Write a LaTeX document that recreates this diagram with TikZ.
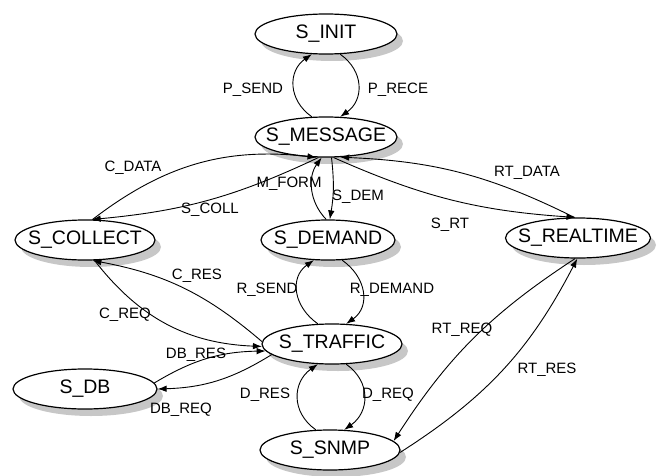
\documentclass[tikz,border=0pt]{standalone}
\usepackage{fontspec}
\setmainfont{Liberation Sans}
\usetikzlibrary{shapes.geometric,arrows.meta,backgrounds}
\begin{document}
\begin{tikzpicture}[x=1pt,y=1pt,
  st/.style={draw, ellipse, fill=white, minimum height=40pt, inner sep=0pt, line width=1.2pt,
    label={[font=\fontsize{19.5}{20}\selectfont]center:#1}},
  shd/.style={fill=black!22, draw=none},
  lb/.style={font=\fontsize{15}{16}\selectfont, inner sep=1pt},
  ed/.style={line width=0.9pt, -{Latex[length=9pt,width=6.5pt]}},
]
\useasboundingbox (0,0) rectangle (658,475);
% states
\node[st=S\_INIT, minimum width=142pt] (init) at (326,441) {};
\node[st=S\_MESSAGE, minimum width=142pt] (msg) at (326,338) {};
\node[st=S\_COLLECT, minimum width=140pt] (col) at (85,235) {};
\node[st=S\_DEMAND, minimum width=134pt] (dem) at (328,235) {};
\node[st=S\_REALTIME, minimum width=145pt] (real) at (578,237) {};
\node[st=S\_TRAFFIC, minimum width=140pt] (trf) at (332,131) {};
\node[st=S\_DB, minimum width=144pt] (db) at (85,86) {};
\node[st=S\_SNMP, minimum width=140pt] (snmp) at (330,25) {};
% shadows
\begin{pgfonlayer}{background}
\fill[shd] ([shift={(6,-7)}]init.center) ellipse [x radius=71, y radius=20];
\fill[shd] ([shift={(6,-7)}]msg.center) ellipse [x radius=71, y radius=20];
\fill[shd] ([shift={(6,-7)}]col.center) ellipse [x radius=70, y radius=20];
\fill[shd] ([shift={(6,-7)}]dem.center) ellipse [x radius=67, y radius=20];
\fill[shd] ([shift={(6,-7)}]real.center) ellipse [x radius=72, y radius=20];
\fill[shd] ([shift={(6,-7)}]trf.center) ellipse [x radius=70, y radius=20];
\fill[shd] ([shift={(6,-7)}]db.center) ellipse [x radius=72, y radius=20];
\fill[shd] ([shift={(6,-7)}]snmp.center) ellipse [x radius=70, y radius=20];
\end{pgfonlayer}
% INIT - MESSAGE loop
\draw[ed] (init.-55) to[out=-35,in=35,looseness=1.2] (msg.55);
\draw[ed] (msg.125) to[out=145,in=215,looseness=1.2] (init.-125);
% MESSAGE - COLLECT
\draw[ed] (col.70) to[bend left=22] (msg.245);
\draw[ed] (msg.250) to[bend left=10] (col.72);
% MESSAGE - DEMAND
\draw[ed] (dem.95) to[bend left=40] (msg.258);
\draw[ed] (msg.285) to[bend left=8] (dem.85);
% MESSAGE - REALTIME
\draw[ed] (real.100) to[bend right=12] (msg.305);
\draw[ed] (msg.290) to[bend right=10] (real.97);
% COLLECT - TRAFFIC
\draw[ed] (col.295) to[bend right=25] (trf.182);
\draw[ed] (trf.178) to[bend right=15] (col.290);
% DB - TRAFFIC
\draw[ed] (db.5) to[bend left=15] (trf.186);
\draw[ed] (trf.190) to[bend left=15] (db.0);
% REALTIME - SNMP
\draw[ed] (real.262) to[bend right=12] (snmp.8);
\draw[ed] (snmp.-2) to[bend right=15] (real.268);
% DEMAND - TRAFFIC loop
\draw[ed] (dem.-55) to[out=-35,in=35,looseness=1.2] (trf.55);
\draw[ed] (trf.125) to[out=145,in=215,looseness=1.2] (dem.-125);
% TRAFFIC - SNMP loop
\draw[ed] (trf.-55) to[out=-35,in=35,looseness=1.2] (snmp.55);
\draw[ed] (snmp.125) to[out=145,in=215,looseness=1.2] (trf.-125);
% labels
\node[lb] (lpsend) at (253,385) {P\_SEND};
\node[lb] (lprece) at (398,385) {P\_RECE};
\node[lb] (lcdata) at (133,307) {C\_DATA};
\node[lb] (lmform) at (289,291) {M\_FORM};
\node[lb] (lsdem) at (358,278) {S\_DEM};
\node[lb] (lscoll) at (210,265) {S\_COLL};
\node[lb] (lsrt) at (450,250) {S\_RT};
\node[lb] (lrtdata) at (527,302) {RT\_DATA};
\node[lb] (lcres) at (197,199) {C\_RES};
\node[lb] (lrsend) at (267,185) {R\_SEND};
\node[lb] (lrdemand) at (392,185) {R\_DEMAND};
\node[lb] (lcreq) at (125,160) {C\_REQ};
\node[lb] (lrtreq) at (462,145) {RT\_REQ};
\node[lb] (lrtres) at (547,105) {RT\_RES};
\node[lb] (ldbres) at (196,120) {DB\_RES};
\node[lb] (ldbreq) at (181,65) {DB\_REQ};
\node[lb] (ldres) at (265,80) {D\_RES};
\node[lb] (ldreq) at (388,80) {D\_REQ};
\end{tikzpicture}
\end{document}
